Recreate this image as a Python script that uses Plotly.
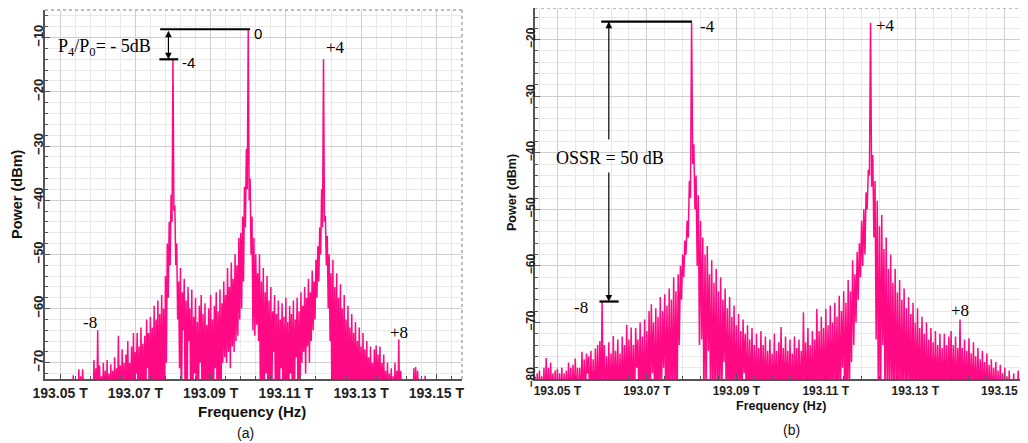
import plotly.graph_objects as go

# ---------------- data ----------------
F_START_A = 193.046   # THz, first sample of panel (a)
F_START_B = 193.045   # THz, first sample of panel (b)
F_STEP = 0.0005       # THz spacing of the upper-edge samples

# panel (a): upper edge of the trace (dBm) at F_START_A + k*F_STEP
upper_a = [
    -80, -80, -80, -80, -80, -80, -80, -80, -80, -80,
    -80, -80, -80, -80, -80, -72.3, -80, -80, -71.2, -72.5,
    -71.2, -80, -80, -80, -80, -80, -69.5, -71, -64, -70.5,
    -72.5, -70, -71.5, -69.5, -72, -70.3, -71.5, -69, -71, -65,
    -70.5, -67.5, -70, -68.5, -66, -70, -67, -64.5, -68, -64.5,
    -67, -63.5, -66.5, -65, -62, -64.5, -61.5, -63.5, -59.5, -62,
    -58.5, -61, -57.5, -60, -54, -48, -44, -39, -14, -41,
    -48, -55, -52.5, -57, -54.5, -58.5, -56, -60, -56.5, -61.5,
    -58, -62.5, -59.5, -57.5, -61, -59, -63, -60, -57.5, -62,
    -59.5, -57, -60.5, -56.5, -59, -55, -57.5, -52.5, -56, -51.5,
    -54.5, -50, -52, -47, -46, -43, -37.5, -30.5, -8.4, -36,
    -43, -47, -50, -53.5, -50, -55, -52.5, -57, -54, -58.5,
    -56, -60.5, -57.5, -61, -58.5, -62, -59, -61.5, -58, -62.5,
    -59.5, -61, -58.5, -62, -58, -60.5, -57, -59.5, -56, -58,
    -54.5, -57, -53, -55, -51, -48.5, -45, -38, -14, -42.9,
    -46.6, -50, -53.5, -51, -56, -53.5, -58, -55.5, -60, -57.5,
    -62, -59.5, -63.5, -61, -64.5, -62.5, -66, -63.5, -67, -64.5,
    -67.5, -66, -69, -67, -70, -67.5, -66.8, -68.5, -67, -70,
    -68.5, -71.5, -70, -72, -71, -72.5, -70, -71.5, -65.7, -71.5,
    -80, -80, -80, -80, -80, -80, -71, -70.8, -71.5, -80,
    -80, -80, -72.4, -80, -80, -80, -80, -80, -80, -80,
    -80, -80,
]
# panel (a): lower edge of the trace (dBm) at F_START_A + (k+0.5)*F_STEP
lower_a = [
    -80, -80, -80, -80, -80, -80, -80, -80, -80, -80,
    -80, -80, -80, -80, -80, -80, -80, -80, -80, -80,
    -80, -80, -80, -80, -80, -80, -80, -80, -80, -80,
    -80, -80, -80, -80, -80, -80, -80, -80, -80, -80,
    -80, -80, -80, -74, -80, -80, -80, -80, -72, -80,
    -80, -80, -80, -80, -71, -80, -80, -80, -80, -74,
    -80, -80, -80, -80, -70, -58, -52, -44, -42, -52,
    -62, -71, -80, -64, -80, -80, -66, -80, -80, -72,
    -80, -80, -70, -80, -80, -80, -73, -80, -80, -80,
    -71, -80, -80, -80, -70, -69, -70, -68, -71, -67,
    -68, -66, -65, -62, -60, -55, -45, -38, -40, -50,
    -64, -65, -63, -66, -80, -80, -80, -72, -80, -80,
    -80, -68, -80, -80, -80, -71, -80, -80, -80, -80,
    -72, -80, -80, -69, -80, -80, -70, -68, -72, -67,
    -70, -66, -64, -62, -58, -55, -50, -45, -44, -52,
    -60, -66, -80, -80, -80, -80, -80, -74, -80, -80,
    -80, -80, -80, -80, -80, -80, -80, -80, -80, -80,
    -80, -80, -80, -80, -80, -80, -80, -80, -80, -80,
    -80, -80, -80, -80, -80, -80, -80, -80, -80, -80,
    -80, -80, -80, -80, -80, -80, -80, -80, -80, -80,
    -80, -80, -80, -80, -80, -80, -80, -80, -80, -80,
    -80, -80,
]

# panel (b): upper edge of the trace (dBm) at F_START_B + k*F_STEP
upper_b = [
    -79.6, -79, -78.5, -79.5, -78, -76.3, -78, -77.1, -79, -78.5,
    -78.2, -79, -78, -79, -78.5, -77.1, -78, -77.5, -76.4, -78,
    -78, -75.2, -76.5, -75.5, -76, -75, -76.5, -74.6, -74, -73.3,
    -66.3, -74, -76, -73.5, -75.5, -72.4, -75, -73, -75.5, -72.5,
    -74, -70.4, -73, -70.9, -74, -71, -73, -70, -72.5, -69.5,
    -71.5, -68, -66.8, -70, -67.5, -69, -65.5, -68, -65, -67,
    -64, -66, -62, -64.5, -61.5, -60, -58, -55.5, -52, -45,
    -17, -38.5, -44, -47.5, -52, -55, -58, -56.5, -61.5, -59,
    -63, -60.5, -64.5, -62, -66, -64, -67.5, -65.5, -69, -67,
    -70.5, -68.5, -71.5, -69.5, -72, -70.5, -73, -71, -74, -72,
    -74.5, -71.5, -74, -72.5, -75, -73, -75.5, -72, -75, -73.5,
    -70.8, -74.5, -72.5, -75, -73, -75.5, -72.5, -74.5, -73, -75,
    -68.2, -73.5, -71, -74, -71.5, -73, -67.6, -71.5, -69, -71,
    -67.6, -70.5, -67, -70, -66.5, -69, -65.3, -68, -64.5, -66.5,
    -62.5, -64.5, -59, -61.5, -57.5, -56, -52, -50, -47, -43,
    -17, -40.4, -45, -48.5, -53, -51, -57, -55, -60.5, -58,
    -63, -60.5, -64.7, -62.5, -66, -64, -67.5, -65.5, -68.5, -66.5,
    -70, -67.5, -71, -69, -72, -70, -73, -71, -73.5, -71.5,
    -74, -72, -74.5, -72, -74, -72.5, -71.5, -74, -72.5, -74.5,
    -69.5, -74.5, -73, -75, -72.8, -75.5, -73.5, -76, -74.5, -76.5,
    -75, -77, -75.5, -77.5, -76.5, -78, -77, -78.5, -77.5, -79,
    -78, -79.5, -78.5, -80, -79, -80, -78.5, -80, -79.3, -80,
]
# panel (b): lower edge of the trace (dBm) at F_START_B + (k+0.5)*F_STEP
lower_b = [
    -85, -85, -85, -85, -85, -85, -85, -85, -85, -85,
    -85, -85, -85, -85, -85, -85, -85, -85, -85, -85,
    -85, -85, -85, -79, -85, -85, -85, -85, -85, -85,
    -85, -85, -85, -85, -85, -85, -85, -85, -85, -85,
    -85, -85, -85, -85, -85, -78, -85, -85, -85, -85,
    -85, -85, -79, -85, -85, -85, -85, -78, -85, -85,
    -85, -85, -85, -85, -74, -66, -62, -58, -55, -48,
    -42, -50, -60, -74, -73, -85, -85, -75, -85, -85,
    -85, -85, -85, -85, -77, -85, -85, -85, -85, -85,
    -85, -85, -85, -79, -85, -85, -85, -85, -85, -85,
    -85, -85, -85, -85, -85, -85, -85, -85, -85, -85,
    -85, -85, -85, -85, -85, -85, -85, -85, -85, -85,
    -85, -85, -85, -85, -85, -85, -85, -85, -85, -85,
    -85, -85, -85, -85, -85, -85, -85, -78, -85, -85,
    -85, -77, -74, -70, -66, -62, -60, -58, -50, -44,
    -46, -55, -73, -85, -85, -74, -85, -85, -85, -85,
    -85, -85, -85, -85, -85, -85, -85, -85, -85, -85,
    -85, -85, -85, -85, -85, -85, -85, -85, -85, -85,
    -85, -85, -85, -85, -85, -85, -85, -85, -85, -85,
    -85, -85, -85, -85, -85, -85, -85, -85, -85, -85,
    -85, -85, -85, -85, -85, -85, -85, -85, -85, -85,
    -85, -85, -85, -85, -85, -85, -85, -85, -85, -85,
]

x_range_a = [193.046, 193.1568]
y_range_a = [-73, -4.9]
x_range_b = [193.045, 193.1543]
y_range_b = [-80, -14.4]


def interleave(start, upper, lower):
    xs, ys = [], []
    for k, (u, lo) in enumerate(zip(upper, lower)):
        xs.append(round(start + F_STEP * k, 5))
        ys.append(u)
        xs.append(round(start + F_STEP * (k + 0.5), 5))
        ys.append(lo)
    return xs, ys


freq_a, power_a = interleave(F_START_A, upper_a, lower_a)
freq_b, power_b = interleave(F_START_B, upper_b, lower_b)

PINK = "#ff0a84"
OFF = 8                 # page body margin in the browser
FW, FH = 1028 - OFF, 443 - OFF


def px_x(p):
    return (p - OFF) / FW


def px_y(p):
    return 1 - (p - OFF) / FH


fig = go.Figure()
fig.add_trace(go.Scatter(x=freq_a, y=power_a, mode="lines",
                         line=dict(color=PINK, width=1.5),
                         xaxis="x", yaxis="y", showlegend=False))
fig.add_trace(go.Scatter(x=freq_b, y=power_b, mode="lines",
                         line=dict(color=PINK, width=1.5),
                         xaxis="x2", yaxis="y2", showlegend=False))


def xax(domain, rng, size, anchor):
    return dict(domain=domain, range=rng, anchor=anchor, automargin=False,
                tickmode="linear", tick0=193.05, dtick=0.02,
                tickformat=".2f", ticksuffix=" T", ticklabeloverflow="allow",
                tickfont=dict(family="Liberation Sans", size=size, color="#222", weight="bold"),
                showgrid=True, gridcolor="#cfcfcf", gridwidth=1,
                minor=dict(tickmode="linear", tick0=193.05, dtick=0.004, showgrid=True,
                           gridcolor="#e9e9e9", ticks="inside", ticklen=3, tickcolor="#555"),
                ticks="inside", ticklen=5, tickcolor="#555",
                showline=True, linecolor="#555", linewidth=1.5, zeroline=False)


def yax(domain, rng, size, standoff, anchor):
    return dict(domain=domain, range=rng, anchor=anchor, automargin=False,
                tickmode="linear", tick0=-80, dtick=10,
                tickangle=-90, ticklabeloverflow="allow",
                tickfont=dict(family="Liberation Sans", size=size, color="#222", weight="bold"),
                showgrid=True, gridcolor="#cfcfcf", gridwidth=1,
                minor=dict(tickmode="linear", tick0=-80, dtick=2, showgrid=True,
                           gridcolor="#e9e9e9", ticks="inside", ticklen=3, tickcolor="#555"),
                ticks="inside", ticklen=5, tickcolor="#555",
                showline=True, linecolor="#555", linewidth=1.5, zeroline=False,
                ticklabelstandoff=standoff)


fig.update_layout(
    width=FW, height=FH, margin=dict(l=0, r=0, t=0, b=0, autoexpand=False),
    paper_bgcolor="white", plot_bgcolor="white",
    xaxis=xax([px_x(45), px_x(462)], x_range_a, 14, "y"),
    yaxis=yax([px_y(379), px_y(10)], y_range_a, 13, -5, "x"),
    xaxis2=xax([px_x(535), px_x(1024)], x_range_b, 12, "y2"),
    yaxis2=yax([px_y(379), px_y(8)], y_range_b, 12, -7, "x2"),
)

shapes = []
for xr, yr in (("x", "y"), ("x2", "y2")):
    shapes.append(dict(type="line", xref=f"{xr} domain", yref=f"{yr} domain",
                       x0=0, x1=1, y0=1, y1=1, line=dict(color="#a8a8a8", width=1.5, dash="dot")))
    shapes.append(dict(type="line", xref=f"{xr} domain", yref=f"{yr} domain",
                       x0=1, x1=1, y0=0, y1=1, line=dict(color="#a8a8a8", width=1.5, dash="dot")))
# panel (a) level markers
shapes.append(dict(type="line", xref="x", yref="y", x0=193.0766, x1=193.1005, y0=-8.45, y1=-8.45,
                   line=dict(color="black", width=2.2)))
shapes.append(dict(type="line", xref="x", yref="y", x0=193.0764, x1=193.0814, y0=-14, y1=-14,
                   line=dict(color="black", width=2.2)))
# panel (b) level markers
shapes.append(dict(type="line", xref="x2", yref="y2", x0=193.0598, x1=193.0801, y0=-16.8, y1=-16.8,
                   line=dict(color="black", width=2.2)))
shapes.append(dict(type="line", xref="x2", yref="y2", x0=193.0594, x1=193.0637, y0=-66.3, y1=-66.3,
                   line=dict(color="black", width=2.2)))
fig.update_layout(shapes=shapes)

SERIF = "Liberation Serif"
SANS = "Liberation Sans"
ann = []


def label(text, x, y, xr, yr, size, family=SERIF):
    ann.append(dict(text=text, x=x, y=y, xref=xr, yref=yr, showarrow=False,
                    xanchor="center", yanchor="middle",
                    font=dict(family=family, size=size, color="black")))


# arrows
ann.append(dict(text="", x=193.0788, y=-14, ax=193.0788, ay=-8.45, xref="x", yref="y",
                axref="x", ayref="y", showarrow=True, arrowhead=2, arrowside="end+start",
                arrowsize=1.1, arrowwidth=1.2, arrowcolor="black", standoff=0, startstandoff=0))
ann.append(dict(text="", x=193.0615, y=-16.8, ax=193.0615, ay=-37.9, xref="x2", yref="y2",
                axref="x2", ayref="y2", showarrow=True, arrowhead=2, arrowsize=1.1,
                arrowwidth=1.2, arrowcolor="black", standoff=0))
ann.append(dict(text="", x=193.0615, y=-66.3, ax=193.0615, ay=-43.2, xref="x2", yref="y2",
                axref="x2", ayref="y2", showarrow=True, arrowhead=2, arrowsize=1.1,
                arrowwidth=1.2, arrowcolor="black", standoff=0))

# panel (a) texts
label("P<sub>4</sub>/P<sub>0</sub>= - 5dB", 193.0617, -11.84, "x", "y", 18)
label("0", 193.1026, -9.19, "x", "y", 15, SANS)
label("-4", 193.0841, -14.6, "x", "y", 15, SANS)
label("+4", 193.1233, -11.8, "x", "y", 17)
label("-8", 193.058, -62.5, "x", "y", 17)
label("+8", 193.14, -64.4, "x", "y", 17)
# panel (b) texts
label("OSSR = 50 dB", 193.0618, -40.9, "x2", "y2", 18)
label("-4", 193.0835, -17.65, "x2", "y2", 17)
label("+4", 193.1233, -17.5, "x2", "y2", 17)
label("-8", 193.0552, -67.3, "x2", "y2", 17)
label("+8", 193.1401, -67.9, "x2", "y2", 17)


def ptext(text, x, y, size, bold=True, angle=0):
    ann.append(dict(text=text, x=px_x(x), y=px_y(y), xref="paper", yref="paper",
                    showarrow=False, xanchor="center", yanchor="middle", textangle=angle,
                    font=dict(family=SANS, size=size, color="#111",
                              weight="bold" if bold else "normal")))


ptext("Power (dBm)", 17, 194, 14.5, angle=-90)
ptext("Frequency (Hz)", 252, 411.5, 15)
ptext("(a)", 245, 433, 14, bold=False)
ptext("Power (dBm)", 512, 193, 12.5, angle=-90)
ptext("Frequency (Hz)", 781, 405.5, 12.5)
ptext("(b)", 791, 430, 14, bold=False)

fig.update_layout(annotations=ann)
fig.write_html("out.html")
